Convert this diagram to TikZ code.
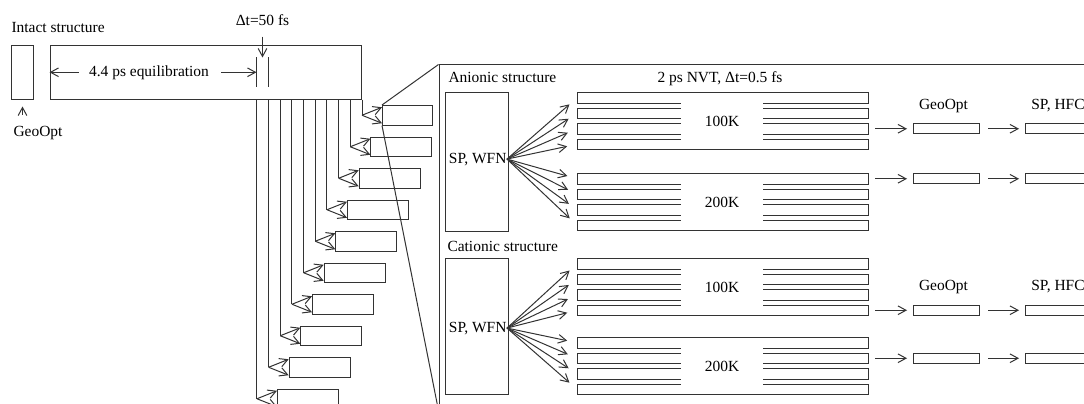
\documentclass[tikz,border=0pt]{standalone}
\usepackage{fontspec}
\setmainfont{Liberation Serif}
\usetikzlibrary{arrows.meta,fit}
\newcommand{\px}{0.75pt}

\begin{document}
\begin{tikzpicture}[x=0.75pt, y=-0.75pt, line width=0.75pt, black!80,
  font=\fontsize{11.6}{13}\selectfont,
  >={Straight Barb[length=6pt,width=6.5pt]},
  frame/.style={draw, inner sep=0, fit={#1}},
  lbl/.style={inner sep=0, text=black},
  snap/.style={draw, inner sep=0, anchor=north west,
    minimum width=#1*\px, minimum height=19.5*\px},
  traj/.style={draw, inner sep=0, anchor=north west,
    minimum width=291*\px, minimum height=10.5*\px},
  slim/.style={draw, inner sep=0, anchor=west,
    minimum width=#1*\px, minimum height=10*\px}]

\clip (0,0) rectangle (1084,403);

% intact structure and equilibration
\node[frame={(11.7,45.7) (33.3,99)}] (intact) {};
\node[lbl, anchor=base west] (intactTxt) at (11,32.5) {Intact structure};
\node[lbl, anchor=base] (geoL) at (38,136) {GeoOpt};
\draw[->, shorten <=7.9pt, shorten >=5.25pt] (intact.south |- geoL.north) -- (intact.south);

\node[frame={(50,45.7) (361,99)}] (equil) {};
\node[lbl, anchor=base] (eqTxt) at (149,76) {4.4 ps equilibration};
\node[inner sep=0, minimum width=11*\px, minimum height=28*\px] (tstep) at (262.5,72) {};
\draw (tstep.north west) -- (tstep.south west) (tstep.north east) -- (tstep.south east);
\node[lbl, anchor=base] (dtTxt) at (262.5,26) {Δt=50 fs};
\draw[->, shorten <=7.5pt] (dtTxt.south) -- (tstep.north);
\draw[->, shorten <=7.5pt] (eqTxt.west) -- (eqTxt.west -| equil.west);
\draw[->, shorten <=9pt] (eqTxt.east) -- (eqTxt.east -| tstep.west);

% snapshots
\foreach \i in {1,...,10}{
  \pgfmathsetmacro\sx{382-(\i-1)*11.67}
  \pgfmathsetmacro\sy{105+(\i-1)*31.5}
  \pgfmathsetmacro\sw{\i==1 ? 50 : 61}
  \node[snap=\sw] (snap\i) at (\sx,\sy) {};
  \coordinate (fork\i) at ([xshift=-20*\px]snap\i.west);
  \draw (fork\i |- equil.south) -- (fork\i);
  \draw[->] (fork\i) -- ([yshift=-1.7pt]snap\i.north west);
  \draw[->] (fork\i) -- ([yshift=1.7pt]snap\i.south west);
}

\node[frame={(439,65) (1100,410)}] (panel) {};
\draw (snap1.north west) -- (panel.north west);
\draw (snap1.south west) -- (panel.south west);

% anionic / cationic
\node[lbl, anchor=base west] (aniTxt) at (448,83) {Anionic structure};
\node[lbl, anchor=base] (nvtTxt) at (720,83) {2 ps NVT, Δt=0.5 fs};
\node[frame={(445,92) (508,231)}] (aniSP) {};
\node[lbl, anchor=base east] (aniWFN) at (507,163) {SP, WFN};

\node[lbl, anchor=base west] (catTxt) at (447,251) {Cationic structure};
\node[frame={(445,258) (508,394)}] (catSP) {};
\node[lbl, anchor=base east] (catWFN) at (507,332) {SP, WFN};

\foreach \g/\gy/\T in {AU/92/100K, AL/173/200K, CU/258/100K, CL/337/200K}{
  \foreach \j in {1,...,4}
    \node[traj] (\g\j) at (577,\gy+\j*15.5-15.5) {};
  \node[lbl, fill=white, minimum width=82*\px, minimum height=39.5*\px] (\g T) at (722,\gy+29.5) {\T};
}

\foreach \g in {AU,AL}
  \foreach \j in {1,...,4}
    \draw[->, shorten >=7.5pt] (aniWFN.east) -- (\g\j.west);
\foreach \g in {CU,CL}
  \foreach \j in {1,...,4}
    \draw[->, shorten >=7.5pt] (catWFN.east) -- (\g\j.west);

% GeoOpt and SP, HFC
\foreach \r/\src in {1/AU3, 2/AL1, 3/CU4, 4/CL2}{
  \node[slim=66] (geo\r) at ([xshift=44*\px]\src.east) {};
  \node[slim=80] (hfc\r) at ([xshift=45*\px]geo\r.east) {};
  \draw[->, shorten <=4.5pt, shorten >=4.5pt] (\src.east) -- (geo\r.west);
  \draw[->, shorten <=6pt, shorten >=4.5pt] (geo\r.east) -- (hfc\r.west);
}
\foreach \r in {1,3}{
  \node[lbl, anchor=base] (geoTxt\r) at ([xshift=-3*\px, yshift=14*\px]geo\r.north) {GeoOpt};
  \node[lbl, anchor=base] (hfcTxt\r) at ([xshift=33*\px, yshift=14*\px]hfc\r.north west) {SP, HFC};
}

\end{tikzpicture}
\end{document}
